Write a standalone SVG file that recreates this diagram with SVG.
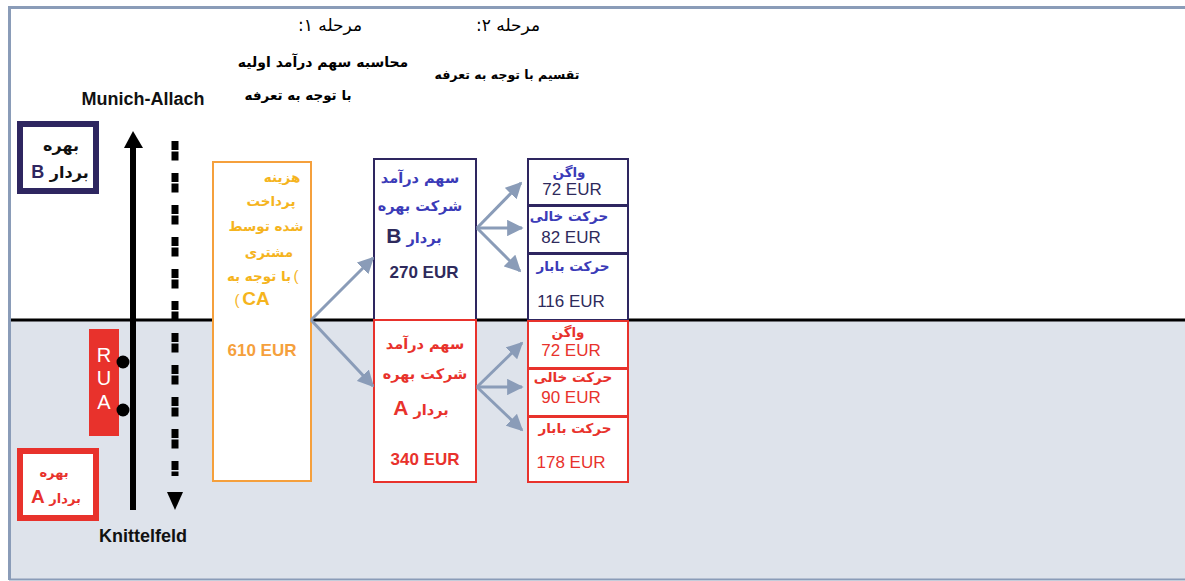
<svg xmlns="http://www.w3.org/2000/svg" width="1185" height="581" viewBox="0 0 1185 581">
<defs>
<style>
.fa{font-family:"DejaVu Sans","Noto Sans",sans-serif;direction:rtl;text-anchor:middle}
.en{font-family:"Liberation Sans",Arial,sans-serif;text-anchor:middle}
.b{font-weight:bold}
.conn{stroke:#8a9cb8;stroke-width:3;fill:none;marker-end:url(#ah)}
.blue{fill:#3b3bb8}
.navy{fill:#2e2a5c}
.red{fill:#e8322c}
.org{fill:#f5b41e}
</style>
<marker id="ah" viewBox="0 0 10 10" refX="9" refY="5" markerWidth="5.5" markerHeight="5.5" orient="auto" markerUnits="strokeWidth">
<path d="M0,0 L10,5 L0,10 z" fill="#8a9cb8"/>
</marker>
</defs>
<rect width="1185" height="581" fill="#ffffff"/>
<rect x="10" y="320" width="1175" height="259" fill="#dee3eb"/>
<line x1="9" y1="7.5" x2="1185" y2="7.5" stroke="#8a9cb8" stroke-width="3"/>
<line x1="9.5" y1="6" x2="9.5" y2="580" stroke="#8a9cb8" stroke-width="3"/>
<line x1="9" y1="579.5" x2="1185" y2="579.5" stroke="#8a9cb8" stroke-width="2"/>
<line x1="11" y1="320" x2="1185" y2="320" stroke="#000" stroke-width="3"/>

<g id="headers">
<text class="fa" x="330" y="31" font-size="17">مرحله ۱:</text>
<text class="fa" x="508" y="31" font-size="17">مرحله ۲:</text>
<text class="fa b" x="323" y="67" font-size="14">محاسبه سهم درآمد اولیه</text>
<text class="fa b" x="298" y="100" font-size="13.5">با توجه به تعرفه</text>
<text class="fa b" x="507" y="79" font-size="12.5">تقسیم با توجه به تعرفه</text>
</g>

<g id="track">
<text class="en b" x="143" y="105" font-size="18" fill="#111">Munich-Allach</text>
<text class="en b" x="143" y="542" font-size="18" fill="#111">Knittelfeld</text>
<line x1="133" y1="146" x2="133" y2="510" stroke="#000" stroke-width="6"/>
<polygon points="133,131 124,148 143,148" fill="#000"/>
<line x1="175" y1="141" x2="175" y2="476" stroke="#000" stroke-width="7" stroke-dasharray="9 1.5 9 12.5"/>
<polygon points="167,492 183,492 175,510" fill="#000"/>
</g>

<g id="operatorB">
<rect x="20" y="124" width="76" height="67" fill="#fff" stroke="#2e2660" stroke-width="6"/>
<text class="fa b" x="61" y="151" font-size="16" fill="#111">بهره</text>
<text class="fa b" x="60" y="178" font-size="16" fill="#111">بردار <tspan class="en" fill="#2e2660" font-size="18">B</tspan></text>
</g>

<g id="rua">
<rect x="89" y="329" width="30" height="107" fill="#e8322c"/>
<text class="en" x="104" y="362" font-size="20" fill="#fff">R</text>
<text class="en" x="104" y="385" font-size="20" fill="#fff">U</text>
<text class="en" x="104" y="409" font-size="20" fill="#fff">A</text>
<circle cx="123" cy="362" r="6.5" fill="#000"/>
<circle cx="123" cy="410" r="6.5" fill="#000"/>
</g>

<g id="operatorA">
<rect x="20" y="451" width="76" height="67" fill="#fff" stroke="#e8322c" stroke-width="6"/>
<text class="fa b red" x="54" y="477" font-size="13">بهره</text>
<text class="fa b red" x="56" y="503" font-size="13">بردار <tspan class="en" font-size="19">A</tspan></text>
</g>

<g id="customer">
<rect x="213" y="162" width="98" height="319" fill="#fff" stroke="#f5a03c" stroke-width="2"/>
<text class="fa b org" x="282" y="182" font-size="13.5">هزینه</text>
<text class="fa b org" x="271" y="206" font-size="13.5">پرداخت</text>
<text class="fa b org" x="266" y="231" font-size="13.5">شده توسط</text>
<text class="fa b org" x="269" y="257" font-size="13.5">مشتری</text>
<text class="fa b org" x="259" y="281" font-size="13.5">با توجه به</text>
<text class="en org" x="296" y="281" font-size="15">(</text>
<text class="en org" x="237" y="305" font-size="15">(</text>
<text class="en b org" x="256" y="305" font-size="19">CA</text>
<text class="en b" x="262" y="356" font-size="17" fill="#f5a03c">610 EUR</text>
</g>

<g id="shareB">
<rect x="374" y="159" width="102" height="161" fill="#fff" stroke="#2e2660" stroke-width="2"/>
<text class="fa b blue" x="420" y="183" font-size="14.5">سهم درآمد</text>
<text class="fa b blue" x="420" y="211" font-size="14.5">شرکت بهره</text>
<text class="fa b blue" x="414" y="243" font-size="14.5">بردار <tspan class="en navy" font-size="21">B</tspan></text>
<text class="en b navy" x="424" y="278" font-size="17">270 EUR</text>
</g>

<g id="shareA">
<rect x="374" y="320" width="102" height="162" fill="#fff" stroke="#e8322c" stroke-width="2"/>
<text class="fa b red" x="425" y="349" font-size="14.5">سهم درآمد</text>
<text class="fa b red" x="425" y="379" font-size="14.5">شرکت بهره</text>
<text class="fa b red" x="421" y="415" font-size="14.5">بردار <tspan class="en" font-size="21">A</tspan></text>
<text class="en b red" x="425" y="465" font-size="17">340 EUR</text>
</g>

<g id="splitB">
<rect x="528" y="159" width="100" height="46" fill="#fff" stroke="#2e2660" stroke-width="2"/>
<rect x="528" y="206" width="100" height="47" fill="#fff" stroke="#2e2660" stroke-width="2"/>
<rect x="528" y="254" width="100" height="66" fill="#fff" stroke="#2e2660" stroke-width="2"/>
<text class="fa b blue" x="569" y="177" font-size="13.5">واگن</text>
<text class="en navy" x="572" y="195" font-size="17">72 EUR</text>
<text class="fa b blue" x="569" y="221" font-size="13.5">حرکت خالی</text>
<text class="en navy" x="571" y="243" font-size="17">82 EUR</text>
<text class="fa b blue" x="573" y="271" font-size="13.5">حرکت بابار</text>
<text class="en navy" x="571" y="307" font-size="17">116 EUR</text>
</g>

<g id="splitA">
<rect x="528" y="321" width="100" height="47" fill="#fff" stroke="#e8322c" stroke-width="2"/>
<rect x="528" y="369" width="100" height="47" fill="#fff" stroke="#e8322c" stroke-width="2"/>
<rect x="528" y="417" width="100" height="65" fill="#fff" stroke="#e8322c" stroke-width="2"/>
<text class="fa b red" x="568" y="337" font-size="13.5">واگن</text>
<text class="en red" x="571" y="356" font-size="17">72 EUR</text>
<text class="fa b red" x="573" y="382" font-size="13.5">حرکت خالی</text>
<text class="en red" x="571" y="403" font-size="17">90 EUR</text>
<text class="fa b red" x="575" y="433" font-size="13.5">حرکت بابار</text>
<text class="en red" x="571" y="468" font-size="17">178 EUR</text>
</g>

<g id="connectors">
<line class="conn" x1="311" y1="320" x2="373" y2="258"/>
<line class="conn" x1="311" y1="320" x2="373" y2="386"/>
<line class="conn" x1="477" y1="228" x2="521" y2="183"/>
<line class="conn" x1="477" y1="228" x2="522" y2="228"/>
<line class="conn" x1="477" y1="228" x2="520" y2="271"/>
<line class="conn" x1="477" y1="387" x2="522" y2="343"/>
<line class="conn" x1="477" y1="387" x2="522" y2="387"/>
<line class="conn" x1="477" y1="387" x2="522" y2="430"/>
</g>
</svg>
